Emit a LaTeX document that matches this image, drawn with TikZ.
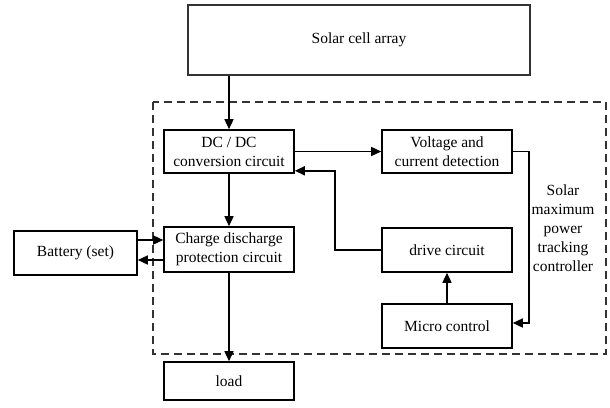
\documentclass[tikz,border=0pt]{standalone}
\usepackage{fontspec}
\setmainfont{Liberation Serif}
\usetikzlibrary{arrows.meta,positioning,calc}

\begin{document}
\begin{tikzpicture}[x=1pt,y=-1pt,
  blockbox/.style={draw,line width=1.6pt,minimum width=130pt,minimum height=43pt,align=center,inner sep=0pt},
  flow/.style={line width=1.5pt,-{Triangle[length=10pt,width=9pt]}},
  every node/.style={font=\fontsize{15.5}{19}\selectfont}]
  \useasboundingbox (0,0) rectangle (610,407);

  % Controller frame
  \draw[line width=1.6pt,dash pattern=on 8pt off 5pt,black!80] (153,102) rectangle (606,354);
  \node[align=center] (mppt) at (563,228) {Solar\\maximum\\power\\tracking\\controller};

  % Blocks
  \node[blockbox,minimum width=342pt,minimum height=70pt,draw=black!80] (solar) at (359,40) {Solar cell array};
  \node[blockbox] (dcdc) at (229,151.5) {DC / DC\\conversion circuit};
  \node[blockbox] (detect) at (447,151.5) {Voltage and\\current detection};
  \node[blockbox,minimum height=45pt] (charge) at (229,249.5) {Charge discharge\\protection circuit};
  \node[blockbox,minimum height=44pt] (drive) at (447,250) {drive circuit};
  \node[blockbox,minimum height=44pt] (micro) at (447,326) {Micro control};
  \node[blockbox,minimum width=123pt,minimum height=44pt] (battery) at (75.5,253) {Battery (set)};
  \node[blockbox,minimum height=38pt] (load) at (229,381) {load};

  % Power path
  \draw[flow] (solar.south -| dcdc.north) -- (dcdc.north);
  \draw[flow] (dcdc) -- (charge);
  \draw[flow] (charge) -- (load);
  \draw[flow] (battery.east |- 0,240) -- (charge.west |- 0,240);
  \draw[flow] (charge.west |- 0,260) -- (battery.east |- 0,260);

  % Control loop
  \draw[flow] (dcdc.east) -- (detect.west);
  \draw[flow] (detect.east) -| (529,323) -- (micro.east |- 0,323);
  \draw[flow] (micro) -- (drive);
  \coordinate (fb) at ($(dcdc.south east)+(0,-3)$);
  \draw[flow] (drive.west) -| (335,0 |- fb) -- (fb);
\end{tikzpicture}
\end{document}
